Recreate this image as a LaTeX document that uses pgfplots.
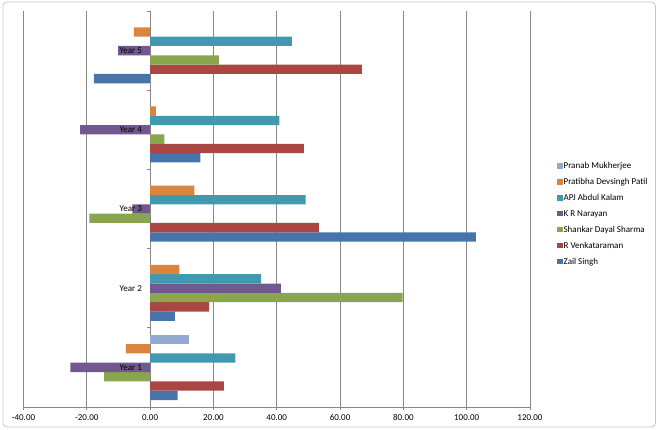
\documentclass[border=0pt]{standalone}
\usepackage{fontspec}
\setmainfont{Carlito}
\usepackage{pgfplots}
\pgfplotsset{compat=1.18}
\definecolor{cZail}{HTML}{4674AB}
\definecolor{cVenk}{HTML}{AA4643}
\definecolor{cShan}{HTML}{89A54E}
\definecolor{cNara}{HTML}{71588F}
\definecolor{cApj}{HTML}{4198AF}
\definecolor{cPrat}{HTML}{DB843D}
\definecolor{cPran}{HTML}{93A9CF}
\definecolor{cGrid}{HTML}{878787}
\begin{document}
\fontsize{9pt}{11pt}\selectfont
\begin{tikzpicture}
\path (0,0) rectangle (660pt,430pt);
\begin{axis}[
  at={(23.5pt,23pt)}, anchor=south west,
  scale only axis, width=506.5pt, height=396pt,
  xbar=0pt, bar width=9.33pt,
  xmin=-40, xmax=120, ymin=0.5, ymax=5.5,
  axis x line=bottom, axis y line=middle,
  hide obscured x ticks=false, hide obscured y ticks=false,
  axis line style={-, draw=cGrid, line width=0.8pt},
  xtick={-40,-20,0,20,40,60,80,100,120},
  xmajorgrids, grid style={cGrid, line width=0.8pt},
  tick align=outside,
  major tick length=3pt, minor tick length=3pt,
  tick style={cGrid, line width=0.8pt},
  ytick={1,2,3,4,5},
  yticklabels={},
  major y tick style={draw=none},
  minor ytick={0.5,1.5,2.5,3.5,4.5,5.5},
  xticklabel style={font=\fontsize{9pt}{11pt}\selectfont, inner sep=0pt, yshift=-4pt},
  legend cell align=left,
  reverse legend,
  legend style={draw=none, fill=none, at={(1.047,0.487)}, anchor=west,
    font=\fontsize{9pt}{11pt}\selectfont, row sep=6.4pt,
    nodes={inner sep=1pt}},
  legend image code/.code={\path[#1] (0pt,-2.2pt) rectangle (5.6pt,3.4pt);},
  /pgf/number format/fixed,
  /pgf/number format/fixed zerofill,
  /pgf/number format/precision=2,
  /pgf/number format/assume math mode=true,
]
\addplot[fill=cZail, draw=none] coordinates {(8.7,1) (7.8,2) (102.9,3) (15.9,4) (-17.8,5)};
\addlegendentry{Zail Singh}
\addplot[fill=cVenk, draw=none] coordinates {(23.3,1) (18.6,2) (53.3,3) (48.6,4) (66.9,5)};
\addlegendentry{R Venkataraman}
\addplot[fill=cShan, draw=none] coordinates {(-14.5,1) (79.8,2) (-19.2,3) (4.5,4) (21.7,5)};
\addlegendentry{Shankar Dayal Sharma}
\addplot[fill=cNara, draw=none] coordinates {(-25.2,1) (41.3,2) (-5.6,3) (-22.1,4) (-10.1,5)};
\addlegendentry{K R Narayan}
\addplot[fill=cApj, draw=none] coordinates {(26.9,1) (35.1,2) (49.1,3) (40.8,4) (44.8,5)};
\addlegendentry{APJ Abdul Kalam}
\addplot[fill=cPrat, draw=none] coordinates {(-7.7,1) (9.2,2) (14.0,3) (1.8,4) (-5.1,5)};
\addlegendentry{Pratibha Devsingh Patil}
\addplot[fill=cPran, draw=none] coordinates {(12.4,1)};
\addlegendentry{Pranab Mukherjee}
\node[anchor=east, inner sep=0pt, xshift=-8pt, font=\fontsize{9pt}{11pt}\selectfont] at (axis cs:0,1) {Year 1};
\node[anchor=east, inner sep=0pt, xshift=-8pt, font=\fontsize{9pt}{11pt}\selectfont] at (axis cs:0,2) {Year 2};
\node[anchor=east, inner sep=0pt, xshift=-8pt, font=\fontsize{9pt}{11pt}\selectfont] at (axis cs:0,3) {Year 3};
\node[anchor=east, inner sep=0pt, xshift=-8pt, font=\fontsize{9pt}{11pt}\selectfont] at (axis cs:0,4) {Year 4};
\node[anchor=east, inner sep=0pt, xshift=-8pt, font=\fontsize{9pt}{11pt}\selectfont] at (axis cs:0,5) {Year 5};
\end{axis}
\draw[draw=gray!45, rounded corners=4pt, line width=0.8pt] (3pt,3pt) rectangle (655.5pt,428pt);
\end{tikzpicture}
\end{document}
